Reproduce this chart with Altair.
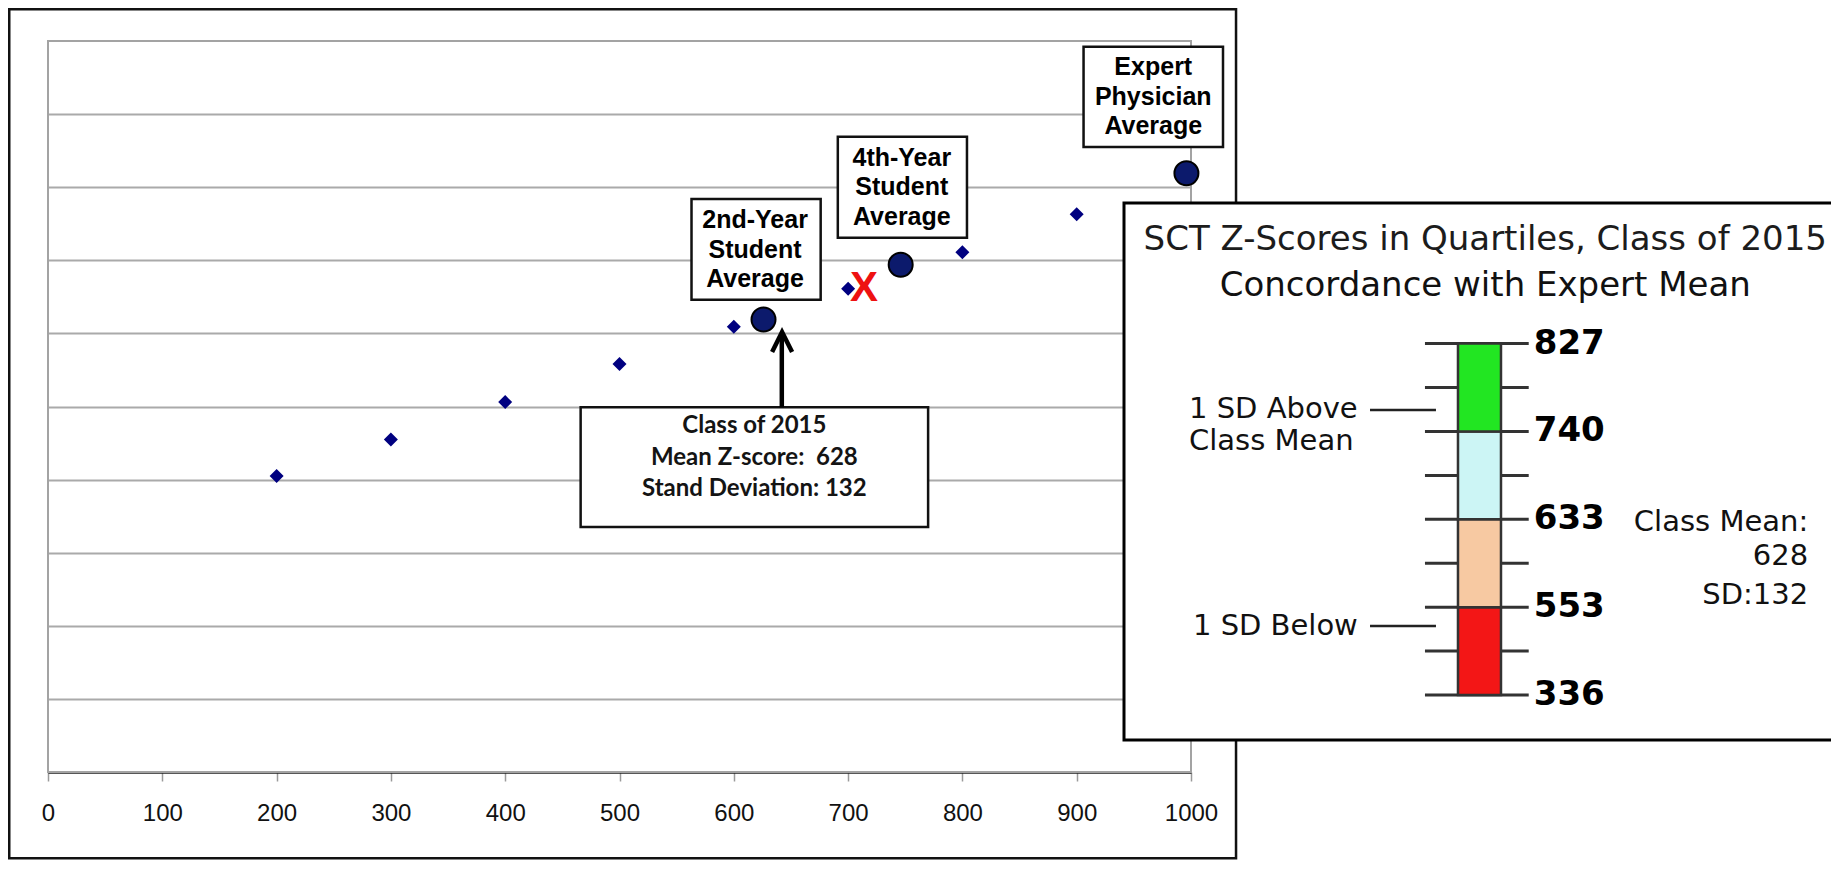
import altair as alt
import pandas as pd

# ---------------- values ----------------
student_x = [200, 300, 400, 500, 600, 700, 800, 900]
student_y = [405, 455, 506, 558, 609, 661, 711, 763]

average_names = ["2nd-Year Student Average", "4th-Year Student Average", "Expert Physician Average"]
average_x = [626, 746, 996]
average_y = [619, 694, 819]

class_marker_x = [714]
class_marker_y = [662]

x_tick_values = [0, 100, 200, 300, 400, 500, 600, 700, 800, 900, 1000]
y_grid_values = [100, 200, 300, 400, 500, 600, 700, 800, 900]

class_year = 2015
class_mean = 628
class_sd = 132

quartile_names = ["Lowest quartile", "Second quartile", "Third quartile", "Top quartile"]
quartile_bounds = [336, 553, 633, 740, 827]
quartile_colors = ["#f31616", "#f7c9a2", "#ccf5f5", "#22e622"]

legend_title = ["SCT Z-Scores in Quartiles, Class of 2015", "Concordance with Expert Mean"]

# ---------------- layout (pixels / data-unit anchors) ----------------
W, H, PAD_BOTTOM = 1823, 764, 88
MAIN_X_RANGE = [40, 1183]
MAIN_Y_RANGE = [764, 33]
LEG_X_RANGE = [1116, 1840]
LEG_Y_RANGE = [687, 335.6]

xs = alt.Scale(domain=[0, 1000], range=MAIN_X_RANGE, nice=False, zero=False)
ys = alt.Scale(domain=[0, 1000], range=MAIN_Y_RANGE, nice=False, zero=False)
lxs = alt.Scale(domain=[0, 100], range=LEG_X_RANGE, nice=False, zero=False)
lys = alt.Scale(domain=[0, 4], range=LEG_Y_RANGE, nice=False, zero=False)


def mx(f):
    return alt.X(f, type="quantitative", scale=xs, axis=None)


def my(f):
    return alt.Y(f, type="quantitative", scale=ys, axis=None)


def lx(f):
    return alt.X(f, type="quantitative", scale=lxs, axis=None)


def ly(f):
    return alt.Y(f, type="quantitative", scale=lys, axis=None)


# ---------------- main scatter ----------------
frame = alt.Chart(pd.DataFrame({"x0": [-33.9], "x1": [1039.4], "y0": [-118], "y1": [1043.5]})).mark_rect(
    fillOpacity=0, stroke="#111111", strokeWidth=2.5
).encode(x=mx("x0"), x2="x1", y=my("y0"), y2="y1")

border = alt.Chart(pd.DataFrame({"x0": [0], "x1": [1000], "y0": [0], "y1": [1000]})).mark_rect(
    fillOpacity=0, stroke="#a3a3a3", strokeWidth=2
).encode(
    x=alt.X("x0:Q", scale=xs, axis=alt.Axis(
        values=x_tick_values, format="d", title=None, grid=False, domainColor="#1e1e1e", domainWidth=2.5,
        tickColor="#9a9a9a", tickWidth=1.5, tickSize=9, labelFont="Liberation Sans",
        labelFontSize=24, labelColor="#111111", labelPadding=20, labelFlush=False,
        labelOverlap=False, orient="bottom")),
    x2="x1",
    y=alt.Y("y0:Q", scale=ys, axis=alt.Axis(
        values=y_grid_values, title=None, grid=True, gridColor="#aaaaaa", gridWidth=2,
        domain=False, ticks=False, labels=False, orient="left")),
    y2="y1",
)

diamonds = alt.Chart(pd.DataFrame({"x": student_x, "y": student_y})).mark_point(
    shape="diamond", filled=True, size=196, color="#000080", opacity=1
).encode(x=mx("x"), y=my("y"))

# label boxes above the three averages (data units)
box_df = pd.DataFrame({
    "name": average_names,
    "x0": [563, 691, 906], "x1": [676, 804, 1028],
    "y0": [646, 731, 855], "y1": [784, 869, 992],
})
label_boxes = alt.Chart(box_df).mark_rect(fill="white", stroke="#111111", strokeWidth=2.5).encode(
    x=mx("x0"), x2="x1", y=my("y0"), y2="y1")

line_rows = []
line_cx = [618.6, 747, 967]
line_top = [755, 840, 964]
for name, cx, top in zip(average_names, line_cx, line_top):
    for i, word in enumerate(name.split(" ")):
        line_rows.append({"x": cx, "y": top - 40.3 * i, "t": word})
label_text = alt.Chart(pd.DataFrame(line_rows)).mark_text(
    font="Liberation Sans", fontWeight="bold", fontSize=25, color="#000000",
    align="center", baseline="middle"
).encode(x=mx("x"), y=my("y"), text="t:N")

circles = alt.Chart(pd.DataFrame({"name": average_names, "x": average_x, "y": average_y})).mark_point(
    shape="circle", filled=True, size=576, fill="#0c1a6c", stroke="#000000", strokeWidth=2, opacity=1
).encode(x=mx("x"), y=my("y"))

marker = alt.Chart(pd.DataFrame({"x": class_marker_x, "y": class_marker_y, "t": ["X"]})).mark_text(
    font="Liberation Sans", fontWeight="bold", fontSize=42, color="#ee1111",
    align="center", baseline="middle"
).encode(x=mx("x"), y=my("y"), text="t:N")

# class summary box with arrow
class_box = alt.Chart(pd.DataFrame({"x0": [466], "x1": [770], "y0": [335], "y1": [499]})).mark_rect(
    fill="white", stroke="#111111", strokeWidth=2.5
).encode(x=mx("x0"), x2="x1", y=my("y0"), y2="y1")

class_lines = [f"Class of {class_year}", f"Mean Z-score:\u00a0 {class_mean}", f"Stand Deviation: {class_sd}"]
class_text = alt.Chart(pd.DataFrame({"x": [618] * 3, "y": [473, 430, 387], "t": class_lines})).mark_text(
    font="Lato", fontWeight="bold", fontSize=24, color="#141414", align="center", baseline="middle"
).encode(x=mx("x"), y=my("y"), text="t:N")

arrow_shaft = alt.Chart(pd.DataFrame({"x": [642], "y0": [499], "y1": [600]})).mark_rule(
    color="#000000", strokeWidth=4.5
).encode(x=mx("x"), y=my("y0"), y2="y1")

arrow_head = alt.Chart(pd.DataFrame({"x": [633.5, 642.2, 651], "y": [574.6, 601.9, 574.6], "o": [0, 1, 2]})).mark_line(
    color="#000000", strokeWidth=4.5, strokeJoin="miter"
).encode(x=mx("x"), y=my("y"), order="o:Q")

# ---------------- quartile ruler panel ----------------
legend_box = alt.Chart(pd.DataFrame({"x0": [0], "x1": [100], "y0": [-0.512], "y1": [5.6]})).mark_rect(
    fill="white", stroke="#000000", strokeWidth=3
).encode(x=lx("x0"), x2="x1", y=ly("y0"), y2="y1")

title1 = alt.Chart(pd.DataFrame({"x": [49.9], "y": [5.18], "t": [legend_title[0]]})).mark_text(
    font="DejaVu Sans", fontSize=34, color="#1c1c1c", align="center", baseline="middle"
).encode(x=lx("x"), y=ly("y"), text="t:N")
title2 = alt.Chart(pd.DataFrame({"x": [49.9], "y": [4.656], "t": [legend_title[1]]})).mark_text(
    font="DejaVu Sans", fontSize=34, color="#111111", align="center", baseline="middle"
).encode(x=lx("x"), y=ly("y"), text="t:N")

tick_pos = [0, 0.5, 1, 1.5, 2, 2.5, 3, 3.5, 4]
ruler_ticks = alt.Chart(pd.DataFrame({"y": tick_pos, "x0": [41.57] * 9, "x1": [55.9] * 9})).mark_rule(
    color="#333333", strokeWidth=3
).encode(x=lx("x0"), x2="x1", y=ly("y"))

seg_df = pd.DataFrame({"q": quartile_names, "lo": [0, 1, 2, 3], "hi": [1, 2, 3, 4],
                       "x0": [46.13] * 4, "x1": [52.07] * 4})
bar = alt.Chart(seg_df).mark_rect(stroke="#333333", strokeWidth=2.5, opacity=1).encode(
    x=lx("x0"), x2="x1", y=ly("lo"), y2="hi",
    color=alt.Color("q:N", scale=alt.Scale(domain=quartile_names, range=quartile_colors), legend=None),
)

bound_df = pd.DataFrame({"y": [0, 1, 2, 3, 4], "v": [str(v) for v in quartile_bounds], "x": [56.6] * 5})
bound_labels = alt.Chart(bound_df).mark_text(
    font="DejaVu Sans", fontWeight="bold", fontSize=34, color="#000000", align="left", baseline="middle"
).encode(x=lx("x"), y=ly("y"), text="v:N")

pointer_df = pd.DataFrame({"y": [3.244, 0.785], "x0": [33.98, 33.98], "x1": [43.09, 43.09]})
pointers = alt.Chart(pointer_df).mark_rule(color="#222222", strokeWidth=2.5).encode(
    x=lx("x0"), x2="x1", y=ly("y"))

above_df = pd.DataFrame({"x": [8.98] * 2, "y": [3.26, 2.89], "t": ["1 SD Above", "Class Mean"]})
above_text = alt.Chart(above_df).mark_text(
    font="DejaVu Sans", fontSize=29, color="#111111", align="left", baseline="middle"
).encode(x=lx("x"), y=ly("y"), text="t:N")

below_df = pd.DataFrame({"x": [32.3], "y": [0.785], "t": ["1 SD Below"]})
below_text = alt.Chart(below_df).mark_text(
    font="DejaVu Sans", fontSize=29, color="#111111", align="right", baseline="middle"
).encode(x=lx("x"), y=ly("y"), text="t:N")

right_df = pd.DataFrame({"x": [94.5] * 3, "y": [1.969, 1.582, 1.138],
                         "t": ["Class Mean:", str(class_mean), f"SD:{class_sd}"]})
right_text = alt.Chart(right_df).mark_text(
    font="DejaVu Sans", fontSize=29, color="#111111", align="right", baseline="middle"
).encode(x=lx("x"), y=ly("y"), text="t:N")

chart = alt.layer(
    border, frame, diamonds, label_boxes, label_text, circles, marker,
    class_box, class_text, arrow_shaft, arrow_head,
    legend_box, title1, title2, ruler_ticks, bar, bound_labels, pointers,
    above_text, below_text, right_text,
).resolve_scale(
    x="independent", y="independent"
).properties(
    width=W, height=H,
    autosize=alt.AutoSizeParams(type="none"),
    padding={"left": 0, "top": 0, "right": 0, "bottom": PAD_BOTTOM},
    background="white",
).configure_view(strokeWidth=0)

chart.save("out.html", embed_options={"renderer": "svg", "actions": False})
